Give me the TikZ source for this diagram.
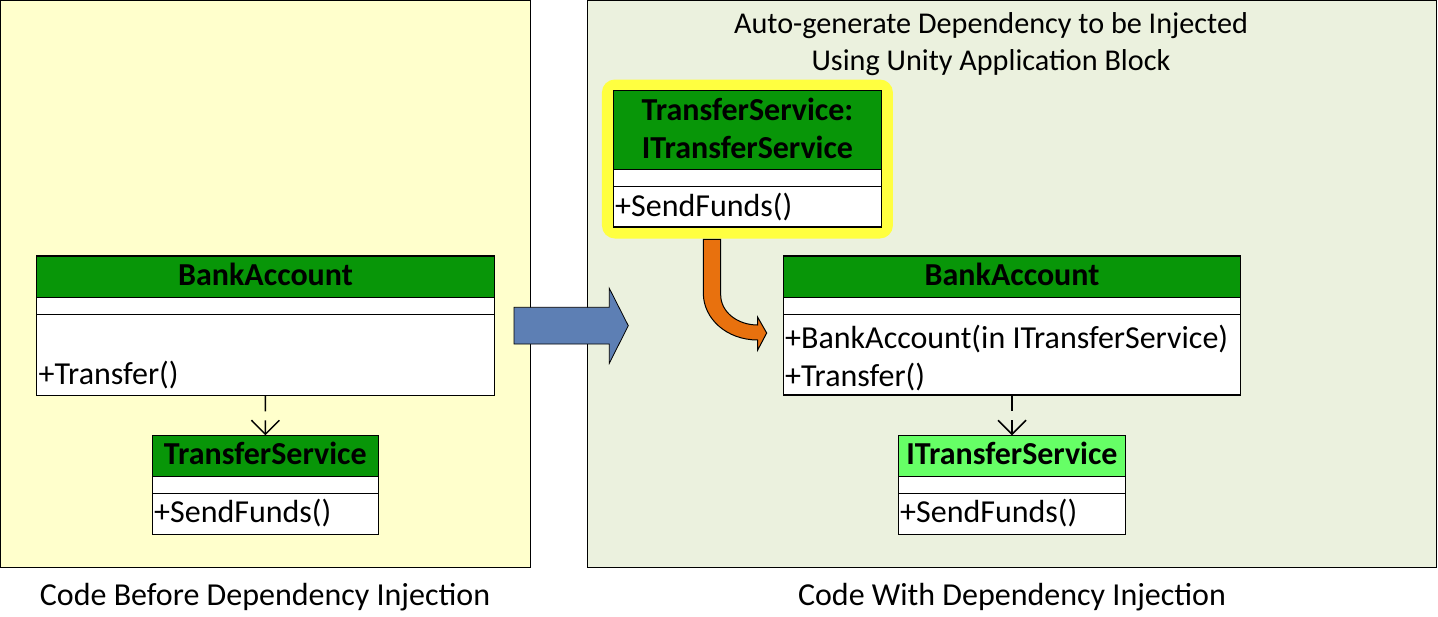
\documentclass[tikz,border=0pt]{standalone}
\usepackage{fontspec}
\setmainfont{Carlito}
\usetikzlibrary{arrows.meta}
\definecolor{hdr}{RGB}{8,150,8}
\definecolor{hdrlight}{RGB}{102,255,102}
\definecolor{paneY}{RGB}{255,255,204}
\definecolor{paneG}{RGB}{235,241,222}
\definecolor{glow}{RGB}{255,255,64}
\definecolor{bluearrow}{RGB}{93,127,180}
\definecolor{orng}{RGB}{232,113,14}
\newcommand{\fsz}{\fontsize{32}{38}\selectfont}
\newcommand{\tsz}{\fontsize{30.2}{36}\selectfont}
\begin{document}
\begin{tikzpicture}[x=1pt,y=-1pt,
  panel/.style={draw=black, line width=1pt},
  box/.style={draw=black, line width=1.3pt, anchor=north west, inner sep=0pt, outer sep=0pt},
  hdrbox/.style={box, fill=hdr},
  cmp/.style={box, fill=white},
  ctitle/.style={font=\fsz\bfseries, anchor=base, inner sep=0pt},
  meth/.style={font=\fsz, anchor=base west, inner sep=0pt},
  lbl/.style={font=\fsz, anchor=base, inner sep=0pt},
  ttl/.style={font=\tsz, anchor=base, inner sep=0pt},
  dep/.style={line width=1.5pt, dash pattern=on 16pt off 9pt, -{Straight Barb[length=14pt,width=28pt,line width=1.5pt]}}
]
\useasboundingbox (0,0) rectangle (1438,616);
% panels
\draw[panel, fill=paneY] (0.5,0.5) rectangle (530,567);
\draw[panel, fill=paneG] (587,0.5) rectangle (1436.5,567);

% titles
\node[ttl] (t1) at (991,33) {Auto-generate Dependency to be Injected};
\node[ttl] (t2) at (991,70) {Using Unity Application Block};
\node[lbl] (l1) at (265,605) {Code Before Dependency Injection};
\node[lbl] (l2) at (1012,605) {Code With Dependency Injection};

% left BankAccount
\node[cmp, minimum width=458pt, minimum height=139.3pt] (baL) at (36.5,256) {};
\node[hdrbox, minimum width=458pt, minimum height=41.3pt] (baLh) at (36.5,256) {};
\node[cmp, minimum width=458pt, minimum height=17pt] (baLa) at (36.5,297.3) {};
\node[ctitle] (baLt) at (265.5,285.5) {BankAccount};
\node[meth] (baLm1) at (38.5,384) {+Transfer()};

% left TransferService
\node[cmp, minimum width=226pt, minimum height=99pt] (tsL) at (152.3,435.3) {};
\node[hdrbox, minimum width=226pt, minimum height=41.4pt] (tsLh) at (152.3,435.3) {};
\node[cmp, minimum width=226pt, minimum height=16.6pt] (tsLa) at (152.3,476.7) {};
\node[ctitle] (tsLt) at (265.3,464) {TransferService};
\node[meth] (tsLm) at (154,522.5) {+SendFunds()};

\draw[dep] (baL.south) -- (tsL.north);

% big blue arrow
\draw[line width=0.8pt, fill=bluearrow] (514,307.3) -- (609.3,307.3) -- (609.3,288.3) -- (628.3,325.7)
  -- (609.3,363.3) -- (609.3,344) -- (514,344) -- cycle;

% highlighted TransferService : ITransferService
\node[draw=none, fill=glow, rounded corners=13pt, anchor=north west, inner sep=0pt,
  minimum width=291pt, minimum height=159pt] (glowbox) at (601.7,79.3) {};
\node[cmp, minimum width=268.4pt, minimum height=136.3pt] (tsR) at (613.3,90.7) {};
\node[hdrbox, minimum width=268.4pt, minimum height=78.6pt] (tsRh) at (613.3,90.7) {};
\node[cmp, minimum width=268.4pt, minimum height=17pt] (tsRa) at (613.3,169.3) {};
\node[ctitle] (tsRt1) at (747.5,120.5) {TransferService:};
\node[ctitle] (tsRt2) at (747.5,158) {ITransferService};
\node[meth] (tsRm) at (615,216) {+SendFunds()};

% orange curved arrow
\draw[line width=1pt, fill=orng] (703.3,239.3) -- (703.3,293)
  .. controls (703.3,319) and (727,340) .. (757.7,340)
  -- (757.7,350) -- (766.7,333) -- (757.7,317.3) -- (757.7,325)
  .. controls (737,325) and (720.7,311.6) .. (720.7,295)
  -- (720.7,239.3) -- cycle;

% right BankAccount
\node[cmp, minimum width=457.4pt, minimum height=139pt] (baR) at (783.3,256) {};
\node[hdrbox, minimum width=457.4pt, minimum height=41.3pt] (baRh) at (783.3,256) {};
\node[cmp, minimum width=457.4pt, minimum height=17pt] (baRa) at (783.3,297.3) {};
\node[ctitle] (baRt) at (1012,285.5) {BankAccount};
\node[meth] (baRm1) at (785,348) {+BankAccount(in ITransferService)};
\node[meth] (baRm2) at (785,386) {+Transfer()};

% right ITransferService
\node[cmp, minimum width=227.4pt, minimum height=99pt] (itsR) at (898.3,435.3) {};
\node[hdrbox, fill=hdrlight, minimum width=227.4pt, minimum height=41.4pt] (itsRh) at (898.3,435.3) {};
\node[cmp, minimum width=227.4pt, minimum height=16.6pt] (itsRa) at (898.3,476.7) {};
\node[ctitle] (itsRt) at (1012,464) {ITransferService};
\node[meth] (itsRm) at (900,522.5) {+SendFunds()};

\draw[dep] (baR.south) -- (itsR.north);
\end{tikzpicture}
\end{document}
